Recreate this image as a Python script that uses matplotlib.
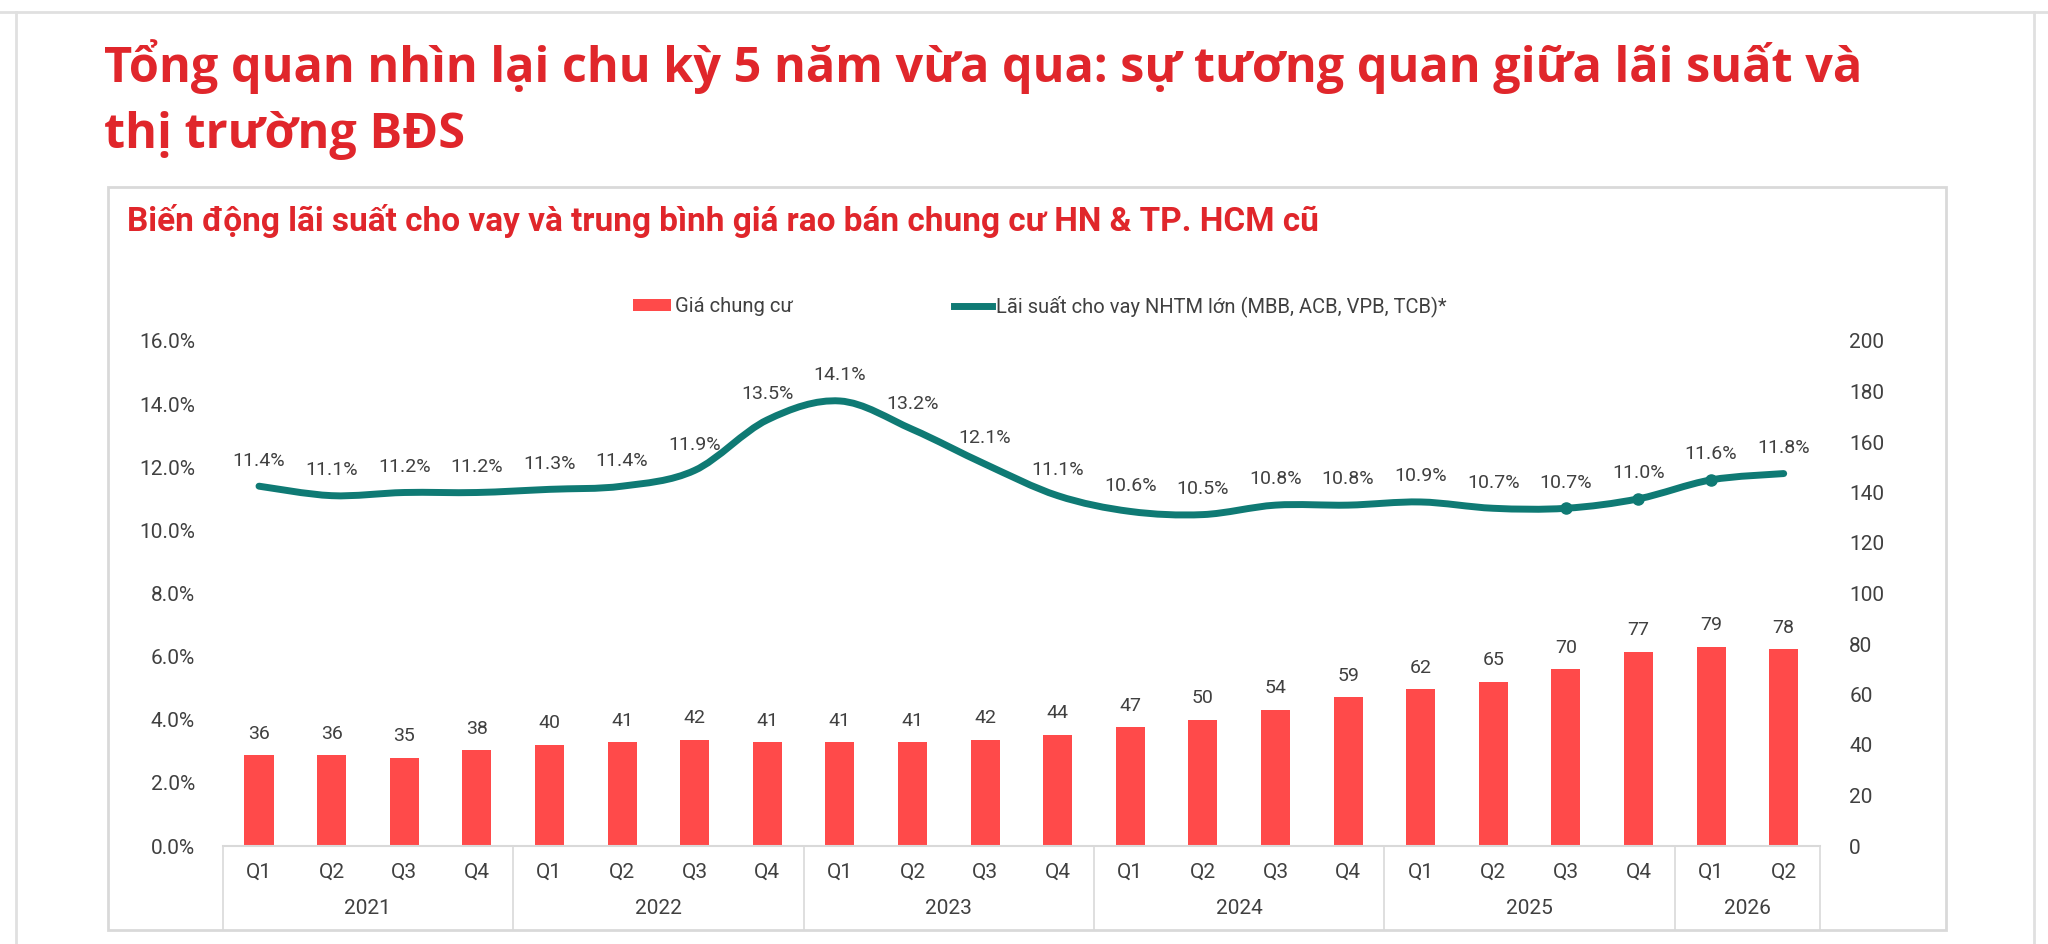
import matplotlib
matplotlib.use("Agg")
import matplotlib.pyplot as plt
from matplotlib.path import Path
from matplotlib.patches import PathPatch, Rectangle, Patch
from matplotlib.lines import Line2D
import matplotlib.transforms as mtransforms

quarters = ["Q1", "Q2", "Q3", "Q4"] * 5 + ["Q1", "Q2"]
years = ["2021", "2022", "2023", "2024", "2025", "2026"]
year_sizes = [4, 4, 4, 4, 4, 2]
price = [36, 36, 35, 38, 40, 41, 42, 41, 41, 41, 42, 44, 47, 50, 54, 59, 62, 65, 70, 77, 79, 78]
rate = [11.4, 11.1, 11.2, 11.2, 11.3, 11.4, 11.9, 13.5, 14.1, 13.2, 12.1, 11.1,
        10.6, 10.5, 10.8, 10.8, 10.9, 10.7, 10.7, 11.0, 11.6, 11.8]
marked = [18, 19, 20]  # points that show a dot on the line

RED = "#ff4a4a"
TITLE_RED = "#e0262b"
TEAL = "#0f7a74"
TXT = "#404040"
GRID = "#d9d9d9"

plt.rcParams["font.family"] = ["Roboto", "DejaVu Sans"]

W, H = 2048, 944
fig = plt.figure(figsize=(W / 100, H / 100), dpi=100)

# page border of the screenshot
fig.add_artist(Line2D([0, 1], [1 - 12 / H, 1 - 12 / H], color="#e0e0e0", lw=2))
fig.add_artist(Line2D([16 / W, 16 / W], [0, 1 - 12 / H], color="#e0e0e0", lw=2))
fig.add_artist(Line2D([2034 / W, 2034 / W], [0, 1 - 12 / H], color="#e0e0e0", lw=2))

title_font = ["Open Sans", "DejaVu Sans"]
fig.text(104 / W, 1 - 82 / H, "Tổng quan nhìn lại chu kỳ 5 năm vừa qua: sự tương quan giữa lãi suất và",
         fontsize=35, fontweight="bold", color=TITLE_RED, family=title_font, va="baseline")
fig.text(104 / W, 1 - 148 / H, "thị trường BĐS",
         fontsize=35, fontweight="bold", color=TITLE_RED, family=title_font, va="baseline")

# chart frame
fig.add_artist(Rectangle((108 / W, 14 / H), (1946 - 108) / W, (930 - 187) / H,
                         transform=fig.transFigure, fill=False, edgecolor=GRID, lw=2))
fig.text(127 / W, 1 - 231 / H, "Biến động lãi suất cho vay và trung bình giá rao bán chung cư HN & TP. HCM cũ",
         fontsize=24, fontweight="bold", color=TITLE_RED, va="baseline")

ax = fig.add_axes([222.7 / W, 98 / H, (1820 - 222.7) / W, 505 / H])
ax2 = ax.twinx()
x = list(range(len(price)))

ax2.bar(x, price, width=0.4, color=RED, zorder=2)
for xi, v in zip(x, price):
    ax2.annotate(str(v), (xi, v), xytext=(0, 9), textcoords="offset points",
                 ha="center", va="bottom", fontsize=14, color=TXT)
ax2.set_ylim(0, 200)
ax2.set_yticks(range(0, 201, 20))

# smooth line (Catmull-Rom as cubic Bezier, like Excel's smoothed line)
pts = list(zip(x, rate))
verts = [pts[0]]
codes = [Path.MOVETO]
n = len(pts)
for i in range(n - 1):
    p0 = pts[i - 1] if i > 0 else pts[i]
    p1 = pts[i]
    p2 = pts[i + 1]
    p3 = pts[i + 2] if i + 2 < n else pts[i + 1]
    c1 = (p1[0] + (p2[0] - p0[0]) / 6, p1[1] + (p2[1] - p0[1]) / 6)
    c2 = (p2[0] - (p3[0] - p1[0]) / 6, p2[1] - (p3[1] - p1[1]) / 6)
    verts += [c1, c2, p2]
    codes += [Path.CURVE4] * 3
ax.add_patch(PathPatch(Path(verts, codes), fill=False, edgecolor=TEAL, lw=5,
                       capstyle="round", joinstyle="round", zorder=3))
ax.plot([x[i] for i in marked], [rate[i] for i in marked], "o", color=TEAL, ms=8, zorder=4)
for xi, v in zip(x, rate):
    ax.annotate(f"{v:.1f}%", (xi, v), xytext=(0, 12), textcoords="offset points",
                ha="center", va="bottom", fontsize=14, color=TXT, zorder=5)

ax.set_ylim(0, 16)
ax.set_yticks(range(0, 17, 2))
ax.set_yticklabels([f"{t:.1f}%" for t in range(0, 17, 2)])
ax.set_xlim(-0.5, len(x) - 0.5)
ax.set_zorder(ax2.get_zorder() + 1)
ax.patch.set_visible(False)

for a in (ax, ax2):
    for s in a.spines.values():
        s.set_visible(False)
    a.tick_params(axis="y", length=0, labelsize=15, labelcolor=TXT)
ax.tick_params(axis="y", pad=20)
ax2.tick_params(axis="y", pad=21)
ax.set_xticks([])

# category axis with quarters and year groups
trans = mtransforms.blended_transform_factory(ax.transData, ax.transAxes)
ax.plot([-0.5, len(x) - 0.5], [0, 0], color=GRID, lw=1.5, transform=trans, clip_on=False)
for xi, q in zip(x, quarters):
    ax.text(xi, -0.052, q, transform=trans, ha="center", va="center", fontsize=15, color=TXT)
start = 0
edges = [-0.5]
for y, sz in zip(years, year_sizes):
    ax.text(start + (sz - 1) / 2, -0.123, y, transform=trans, ha="center", va="center",
            fontsize=15, color=TXT)
    start += sz
    edges.append(start - 0.5)
for e in edges:
    ax.plot([e, e], [0, -0.166], color=GRID, lw=1.2, transform=trans, clip_on=False)

handles = [Patch(facecolor=RED, edgecolor="none"), Line2D([], [], color=TEAL, lw=5)]
fig.legend(handles, ["Giá chung cư", "Lãi suất cho vay NHTM lớn (MBB, ACB, VPB, TCB)*"],
           loc="center", bbox_to_anchor=(1040 / W, 1 - 306 / H), ncol=2, frameon=False,
           fontsize=14.5, labelcolor=TXT, handlelength=1.9, handleheight=0.5,
           handletextpad=0.2, columnspacing=8)

fig.savefig("out.png", dpi=100)
